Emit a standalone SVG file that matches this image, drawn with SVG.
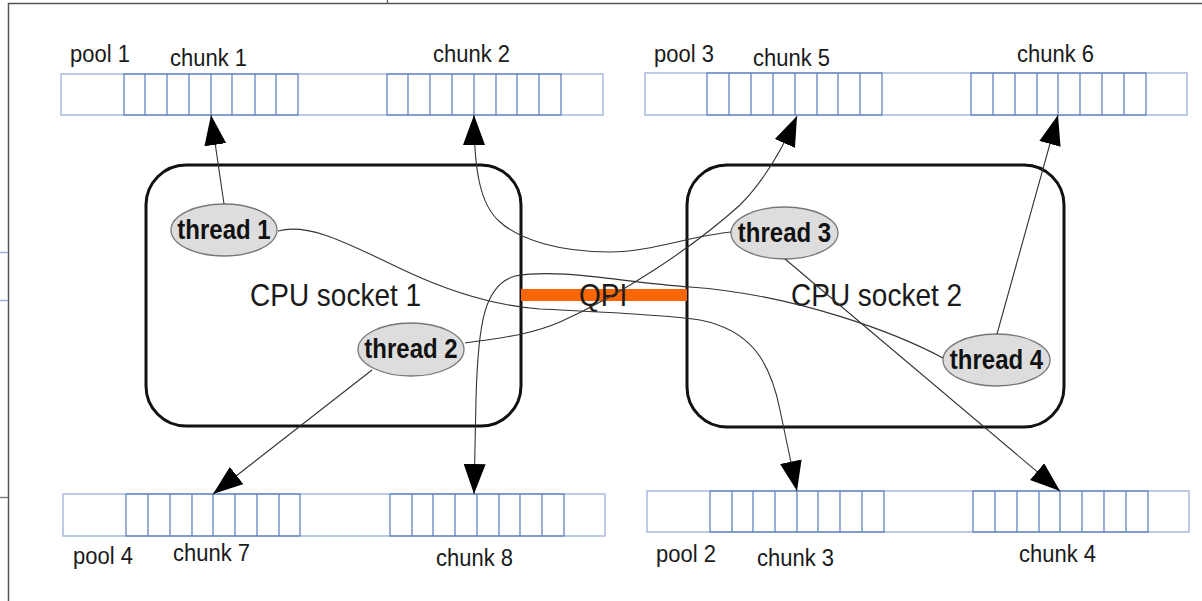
<svg xmlns="http://www.w3.org/2000/svg" width="1202" height="601" viewBox="0 0 1202 601">
  <style>
    .pool { fill: #ffffff; stroke: #a2b6dc; stroke-width: 1.4; }
    .chunk { fill: none; stroke: #6484c2; stroke-width: 1.3; }
    .lbl { font-family: "Liberation Sans", Arial, sans-serif; font-size: 22px; fill: #1a1a1a; }
    .big { font-family: "Liberation Sans", Arial, sans-serif; font-size: 28px; fill: #1a1a1a; }
    .socket { fill: none; stroke: #111111; stroke-width: 3; }
    .thread ellipse { fill: #dddddd; stroke: #777777; stroke-width: 1.3; }
    .thread text { font-family: "Liberation Sans", Arial, sans-serif; font-size: 24px; font-weight: bold; fill: #111111; text-anchor: middle; }
    .conn { fill: none; stroke: #333333; stroke-width: 1.1; marker-end: url(#arrow); }
  </style>
  <defs>
    <marker id="arrow" markerUnits="userSpaceOnUse" markerWidth="30" markerHeight="22" refX="30" refY="11" orient="auto">
      <path d="M0,0 L30,11 L0,22 z" fill="#000000"/>
    </marker>
  </defs>

  <rect width="1202" height="601" fill="#ffffff"/>

  <!-- page frame and edge marks -->
  <g id="frame" fill="none">
    <path d="M8.5,601 V3.5 H1202" stroke="#555555" stroke-width="1.5"/>
    <path d="M387.5,0 V3" stroke="#555555" stroke-width="1.2"/>
    <path d="M0,252.5 H8 M0,300.5 H8" stroke="#9bb1da" stroke-width="1.4"/>
    <path d="M0,497.5 H8" stroke="#777777" stroke-width="1.4"/>
  </g>

  <!-- pool 1 -->
  <g id="pool1">
    <rect class="pool" x="61" y="74" width="542" height="41"/>
    <rect class="chunk" x="124" y="74" width="174" height="41"/>
    <rect class="chunk" x="387" y="74" width="174" height="41"/>
    <path class="chunk" d="M145,74V115M167,74V115M189,74V115M211,74V115M232,74V115M255,74V115M276,74V115 M408,74V115M430,74V115M452,74V115M474,74V115M496,74V115M517,74V115M539,74V115"/>
    <text class="lbl" x="70" y="62" transform="matrix(1 0 0 1.12 0 -7.44)">pool 1</text>
    <text class="lbl" x="170" y="66" transform="matrix(1 0 0 1.12 0 -7.92)">chunk 1</text>
    <text class="lbl" x="433" y="62" transform="matrix(1 0 0 1.12 0 -7.44)">chunk 2</text>
  </g>

  <!-- pool 3 -->
  <g id="pool3">
    <rect class="pool" x="645" y="73" width="542" height="42"/>
    <rect class="chunk" x="707" y="73" width="175" height="42"/>
    <rect class="chunk" x="971" y="73" width="175" height="42"/>
    <path class="chunk" d="M729,73V115M751,73V115M773,73V115M795,73V115M817,73V115M838,73V115M860,73V115 M993,73V115M1015,73V115M1037,73V115M1058,73V115M1080,73V115M1102,73V115M1124,73V115"/>
    <text class="lbl" x="654" y="62" transform="matrix(1 0 0 1.12 0 -7.44)">pool 3</text>
    <text class="lbl" x="753" y="66" transform="matrix(1 0 0 1.12 0 -7.92)">chunk 5</text>
    <text class="lbl" x="1017" y="62" transform="matrix(1 0 0 1.12 0 -7.44)">chunk 6</text>
  </g>

  <!-- pool 4 -->
  <g id="pool4">
    <rect class="pool" x="63" y="494" width="542" height="42"/>
    <rect class="chunk" x="126" y="494" width="174" height="42"/>
    <rect class="chunk" x="390" y="494" width="174" height="42"/>
    <path class="chunk" d="M148,494V536M170,494V536M192,494V536M213,494V536M235,494V536M257,494V536M279,494V536 M412,494V536M433,494V536M455,494V536M477,494V536M499,494V536M520,494V536M542,494V536"/>
    <text class="lbl" x="73" y="564" transform="matrix(1 0 0 1.12 0 -67.68)">pool 4</text>
    <text class="lbl" x="173" y="561" transform="matrix(1 0 0 1.12 0 -67.32)">chunk 7</text>
    <text class="lbl" x="436" y="566" transform="matrix(1 0 0 1.12 0 -67.92)">chunk 8</text>
  </g>

  <!-- pool 2 -->
  <g id="pool2">
    <rect class="pool" x="647" y="491" width="542" height="41"/>
    <rect class="chunk" x="710" y="491" width="174" height="41"/>
    <rect class="chunk" x="973" y="491" width="175" height="41"/>
    <path class="chunk" d="M732,491V532M753,491V532M775,491V532M797,491V532M818,491V532M840,491V532M862,491V532 M995,491V532M1017,491V532M1039,491V532M1060,491V532M1082,491V532M1104,491V532M1126,491V532"/>
    <text class="lbl" x="656" y="562" transform="matrix(1 0 0 1.12 0 -67.44)">pool 2</text>
    <text class="lbl" x="757" y="566" transform="matrix(1 0 0 1.12 0 -67.92)">chunk 3</text>
    <text class="lbl" x="1019" y="562" transform="matrix(1 0 0 1.12 0 -67.44)">chunk 4</text>
  </g>

  <!-- CPU sockets -->
  <g id="socket1">
    <rect class="socket" x="146" y="165" width="375" height="261" rx="40" ry="40"/>
    <text class="big" x="250" y="306" transform="matrix(1 0 0 1.12 0 -36.72)">CPU socket 1</text>
  </g>
  <g id="socket2">
    <rect class="socket" x="687" y="165" width="377" height="262" rx="40" ry="40"/>
    <text class="big" x="791" y="306" transform="matrix(1 0 0 1.12 0 -36.72)">CPU socket 2</text>
  </g>

  <!-- QPI link -->
  <g id="qpi">
    <rect x="521" y="289" width="166" height="12" fill="#ff6600"/>
    <text class="big" x="579" y="306" transform="matrix(1 0 0 1.12 0 -36.72)">QPI</text>
  </g>

  <!-- threads -->
  <g id="thread1" class="thread">
    <ellipse cx="224" cy="230" rx="53" ry="26"/>
    <text x="224" y="239" transform="matrix(1 0 0 1.12 0 -28.68)">thread 1</text>
  </g>
  <g id="thread2" class="thread">
    <ellipse cx="411" cy="349.5" rx="53" ry="26.5"/>
    <text x="411" y="358" transform="matrix(1 0 0 1.12 0 -42.96)">thread 2</text>
  </g>
  <g id="thread3" class="thread">
    <ellipse cx="784.5" cy="233" rx="53.5" ry="26"/>
    <text x="784.5" y="242" transform="matrix(1 0 0 1.12 0 -29.04)">thread 3</text>
  </g>
  <g id="thread4" class="thread">
    <ellipse cx="996.5" cy="360" rx="53.5" ry="26"/>
    <text x="996.5" y="369" transform="matrix(1 0 0 1.12 0 -44.28)">thread 4</text>
  </g>

  <!-- connectors: each thread to the chunk it uses -->
  <g id="connectors">
    <path class="conn" d="M224,204 L211,115"/>
    <path class="conn" d="M731,232 C690,236 650,252 610,252 C560,252 520,240 500,222 C480,205 474,170 474,115"/>
    <path class="conn" d="M278,231 C310,222 350,245 410,273 C460,296 500,306 540,309 C600,312 660,314 700,320 C750,330 770,360 780,410 L797,491"/>
    <path class="conn" d="M465,343 C500,338 530,335 560,322 C620,295 690,250 740,205 C765,180 782,150 797,116"/>
    <path class="conn" d="M943,358 C900,335 800,295 690,287 C620,282 560,268 515,276 C485,285 478,320 476,400 L474,494"/>
    <path class="conn" d="M372,370 L213,494"/>
    <path class="conn" d="M785,259 L1060,491"/>
    <path class="conn" d="M997,334 L1058,115"/>
  </g>
</svg>
